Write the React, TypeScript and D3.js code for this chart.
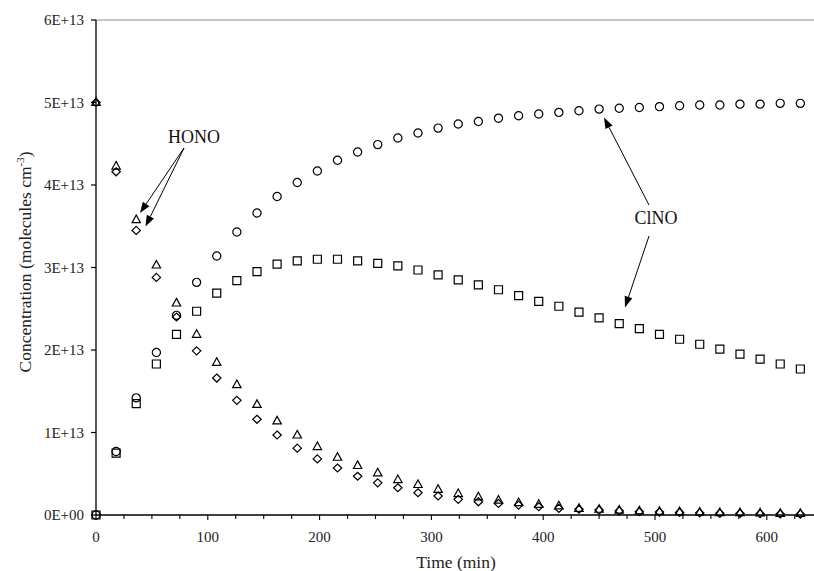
import React from "react";
import * as d3 from "d3";

// Sampling times (min)
const times = [
  0, 18, 36, 54, 72, 90, 108, 126, 144, 162, 180, 198, 216, 234, 252, 270, 288, 306,
  324, 342, 360, 378, 396, 414, 432, 450, 468, 486, 504, 522, 540, 558, 576, 594, 612, 630,
];

// ClNO, upper curve (circles), units of 1E+13 molecules cm-3
const clnoCircles = [
  0, 0.77, 1.42, 1.97, 2.42, 2.82, 3.14, 3.43, 3.66, 3.86, 4.03, 4.17, 4.3, 4.4, 4.49, 4.57, 4.63, 4.69,
  4.74, 4.77, 4.81, 4.84, 4.86, 4.88, 4.9, 4.92, 4.93, 4.94, 4.95, 4.96, 4.97, 4.97, 4.98, 4.98, 4.99, 4.99,
];

// ClNO, lower curve (squares)
const clnoSquares = [
  0, 0.75, 1.35, 1.83, 2.19, 2.47, 2.69, 2.84, 2.95, 3.04, 3.08, 3.1, 3.1, 3.08, 3.05, 3.02, 2.97, 2.91,
  2.85, 2.79, 2.73, 2.66, 2.59, 2.53, 2.46, 2.39, 2.32, 2.26, 2.19, 2.13, 2.07, 2.01, 1.95, 1.89, 1.83, 1.77,
];

// HONO (triangles)
const honoTriangles = [
  5.0, 4.23, 3.58, 3.03, 2.57, 2.19, 1.85, 1.58, 1.34, 1.14, 0.97, 0.83, 0.7, 0.6, 0.51, 0.43, 0.37, 0.31,
  0.26, 0.22, 0.18, 0.15, 0.13, 0.11, 0.08, 0.07, 0.06, 0.05, 0.045, 0.04, 0.035, 0.03, 0.03, 0.025, 0.02, 0.02,
];

// HONO (diamonds)
const honoDiamonds = [
  5.0, 4.16, 3.45, 2.88, 2.4, 1.99, 1.66, 1.39, 1.16, 0.97, 0.81, 0.68, 0.57, 0.47, 0.39, 0.33, 0.27, 0.23,
  0.19, 0.16, 0.14, 0.12, 0.1, 0.08, 0.07, 0.06, 0.05, 0.04, 0.035, 0.03, 0.025, 0.02, 0.018, 0.015, 0.012, 0.01,
];

const yTickValues = [0, 1, 2, 3, 4, 5, 6];
const yTickLabels = ["0E+00", "1E+13", "2E+13", "3E+13", "4E+13", "5E+13", "6E+13"];
const xMajorTicks = [0, 100, 200, 300, 400, 500, 600];

const FONT = "'Liberation Serif', 'Times New Roman', Times, serif";

const W = 814;
const H = 571;

const x = d3.scaleLinear().domain([0, 650]).range([96, 96 + 650 * 1.118]);
const y = d3.scaleLinear().domain([0, 6]).range([515, 20]);

const circlePath = d3.symbol().type(d3.symbolCircle).size(Math.PI * 4.1 * 4.1)();
const squarePath = "M-4,-4H4V4H-4Z";
const trianglePath = "M0,-4.6L4.2,3L-4.2,3Z";
const diamondPath = "M0,-4L4.2,0L0,4L-4.2,0Z";

function Markers({ values, d }: { values: number[]; d: string }) {
  return (
    <g fill="white" fillOpacity={0} stroke="#000" strokeWidth={1.2}>
      {values.map((v, i) => (
        <path key={i} d={d} transform={`translate(${x(times[i])},${y(v)})`} />
      ))}
    </g>
  );
}

function Arrow({ x1, y1, x2, y2 }: { x1: number; y1: number; x2: number; y2: number }) {
  const ang = Math.atan2(y2 - y1, x2 - x1);
  const len = 11;
  const half = 4;
  const bx = x2 - len * Math.cos(ang);
  const by = y2 - len * Math.sin(ang);
  const px = -Math.sin(ang) * half;
  const py = Math.cos(ang) * half;
  return (
    <g>
      <line x1={x1} y1={y1} x2={bx} y2={by} stroke="#000" strokeWidth={1} />
      <path d={`M${x2},${y2}L${bx + px},${by + py}L${bx - px},${by - py}Z`} fill="#000" />
    </g>
  );
}

export default function App() {
  const minorTicks = d3.range(0, 650, 25);
  return (
    <svg
      width={W}
      height={H}
      style={{ position: "absolute", left: 0, top: 0, background: "#fff" }}
      fontFamily={FONT}
    >
      <rect width={W} height={H} fill="#fff" />
      {/* plot frame: grey top edge, black axes */}
      <line x1={96} y1={20} x2={W} y2={20} stroke="#8a8a8a" strokeWidth={1.2} />
      <line x1={96} y1={20} x2={96} y2={515} stroke="#000" strokeWidth={1.3} />

      {/* y axis */}
      {yTickValues.map((v, i) => (
        <g key={v}>
          <line x1={91} x2={96} y1={y(v)} y2={y(v)} stroke="#000" strokeWidth={1.2} />
          <text x={84} y={y(v)} dy="0.35em" textAnchor="end" fontSize={15} fill="#222">
            {yTickLabels[i]}
          </text>
        </g>
      ))}

      {/* x axis */}
      {minorTicks.map((t) => (
        <line
          key={t}
          x1={x(t)}
          x2={x(t)}
          y1={515}
          y2={t % 100 === 0 ? 520 : 519}
          stroke="#000"
          strokeWidth={1.1}
        />
      ))}
      {xMajorTicks.map((t) => (
        <text key={t} x={x(t)} y={542} textAnchor="middle" fontSize={15} fill="#222">
          {t}
        </text>
      ))}

      <text x={456} y={568} textAnchor="middle" fontSize={17.5} fill="#222">
        Time (min)
      </text>
      <text
        transform="translate(31,262) rotate(-90)"
        textAnchor="middle"
        fontSize={17.5}
        fill="#222"
      >
        Concentration (molecules cm
        <tspan fontSize={11} dy={-7}>
          -3
        </tspan>
        <tspan dy={7}>)</tspan>
      </text>

      {/* data */}
      <Markers values={honoTriangles} d={trianglePath} />
      <Markers values={honoDiamonds} d={diamondPath} />
      <Markers values={clnoSquares} d={squarePath} />
      <Markers values={clnoCircles} d={circlePath} />

      <line x1={96} y1={515} x2={W} y2={515} stroke="#000" strokeWidth={1.3} />

      {/* annotations */}
      <text x={194} y={143} textAnchor="middle" fontSize={18} fill="#111">
        HONO
      </text>
      <Arrow x1={184} y1={148} x2={140} y2={213} />
      <Arrow x1={184} y1={148} x2={145.5} y2={226.5} />

      <text x={656} y={224} textAnchor="middle" fontSize={18} fill="#111">
        ClNO
      </text>
      <Arrow x1={649} y1={205} x2={604} y2={117.5} />
      <Arrow x1={649} y1={236} x2={625} y2={307.5} />
    </svg>
  );
}
